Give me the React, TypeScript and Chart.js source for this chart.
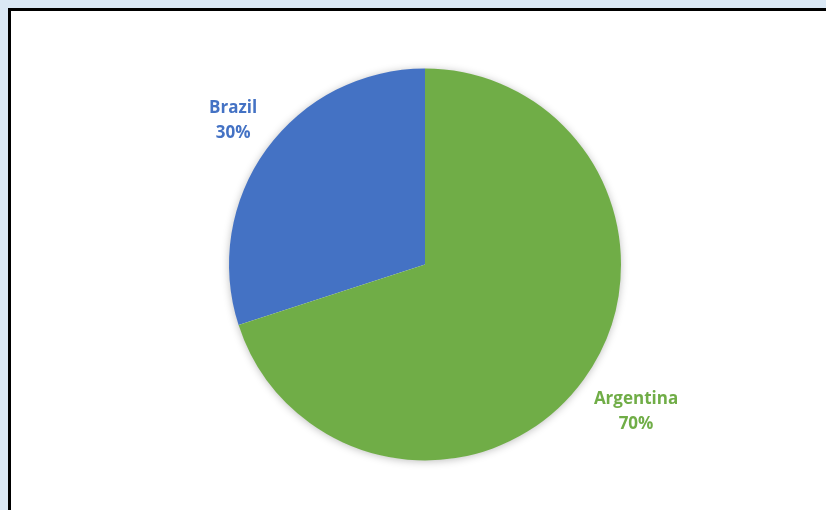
import React, { useEffect, useRef } from "react";
import { Chart, registerables } from "chart.js";

Chart.register(...registerables);

const categories = ["Brazil", "Argentina"];
const shares = [30, 70];
const percentLabels = ["30%", "70%"];
const sliceColors = ["#4472C4", "#70AD47"];
const labelDistance = [1.23, 1.308];
const labelAngleShiftDeg = [1.25, -1.4];

const shadowPlugin = {
  id: "pieShadow",
  beforeDatasetsDraw(chart: any) {
    const meta = chart.getDatasetMeta(0);
    const arc = meta.data[0];
    if (!arc) return;
    const { x, y, outerRadius } = arc.getProps(["x", "y", "outerRadius"], true);
    const ctx = chart.ctx;
    ctx.save();
    ctx.shadowColor = "rgba(0,0,0,0.28)";
    ctx.shadowBlur = 8;
    ctx.shadowOffsetX = 0;
    ctx.shadowOffsetY = 1;
    ctx.fillStyle = "#ffffff";
    ctx.beginPath();
    ctx.arc(x, y, outerRadius - 0.5, 0, Math.PI * 2);
    ctx.fill();
    ctx.restore();
  },
};

const labelPlugin = {
  id: "outsideLabels",
  afterDatasetsDraw(chart: any) {
    const meta = chart.getDatasetMeta(0);
    const ctx = chart.ctx;
    ctx.save();
    ctx.font = "bold 17px 'Open Sans', sans-serif";
    ctx.textAlign = "center";
    ctx.textBaseline = "middle";
    meta.data.forEach((arc: any, i: number) => {
      const { x, y, startAngle, endAngle, outerRadius } = arc.getProps(
        ["x", "y", "startAngle", "endAngle", "outerRadius"],
        true
      );
      const mid = (startAngle + endAngle) / 2 + (labelAngleShiftDeg[i] * Math.PI) / 180;
      const d = outerRadius * labelDistance[i];
      const lx = x + Math.cos(mid) * d;
      const ly = y + Math.sin(mid) * d + 2;
      ctx.fillStyle = sliceColors[i];
      ctx.fillText(categories[i], lx, ly - 12.5);
      ctx.fillText(percentLabels[i], lx, ly + 12.5);
    });
    ctx.restore();
  },
};

export default function App() {
  const canvasRef = useRef<HTMLCanvasElement | null>(null);

  useEffect(() => {
    if (!canvasRef.current) return;
    const chart = new Chart(canvasRef.current, {
      type: "pie",
      data: {
        labels: categories,
        datasets: [
          {
            data: shares,
            backgroundColor: sliceColors,
            borderWidth: 0,
          },
        ],
      },
      options: {
        responsive: false,
        animation: false,
        rotation: -108,
        layout: { padding: { top: 68.5, bottom: 49.5, left: 24, right: 0 } },
        plugins: {
          legend: { display: false },
          tooltip: { enabled: false },
          title: { display: false },
        },
      },
      plugins: [shadowPlugin, labelPlugin],
    });
    return () => chart.destroy();
  }, []);

  return (
    <div
      style={{
        position: "fixed",
        left: 0,
        top: 0,
        width: 826,
        height: 510,
        background: "#DAE8F5",
        overflow: "hidden",
      }}
    >
      <div
        style={{
          position: "absolute",
          left: 8,
          top: 8,
          width: 840,
          height: 530,
          background: "#ffffff",
          border: "3px solid #000000",
          boxSizing: "border-box",
        }}
      />
      <canvas
        ref={canvasRef}
        width={826}
        height={510}
        style={{ position: "absolute", left: 0, top: 0 }}
      />
    </div>
  );
}
